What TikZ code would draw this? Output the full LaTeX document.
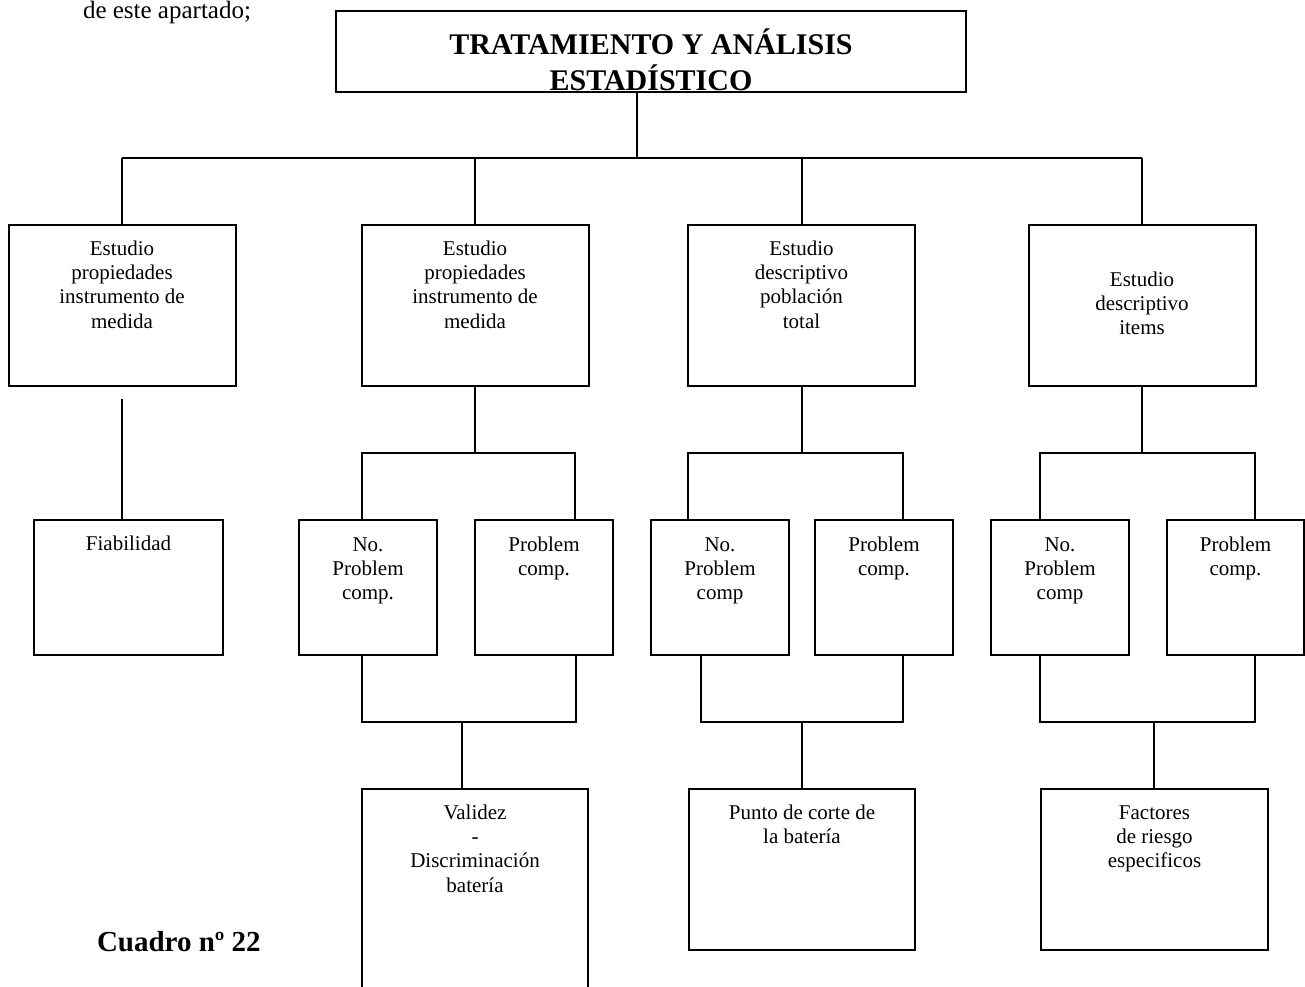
\documentclass[tikz,border=0pt]{standalone}
\usepackage{fontspec}
\setmainfont{Liberation Serif}
\tikzset{
  frame/.style={draw, line width=2pt, inner sep=0pt, outer sep=0pt},
  link/.style={line width=2pt, line join=miter},
  plain/.style={inner sep=0pt, outer sep=0pt},
}
% box contents: width, height, depth of first baseline, lines
\newcommand\boxtxt[4]{\parbox[c][#2][t]{#1}{\centering\fontsize{21}{24.4}\selectfont\rule{0pt}{#3}#4\par}}
\begin{document}
\begin{tikzpicture}[x=1pt,y=-1pt]
\useasboundingbox (0,0) rectangle (1305,986);
\clip (0,0) rectangle (1305,986);

% running text above and caption below
\node[plain, anchor=base west, font=\fontsize{25}{29}\selectfont] (para) at (83,18) {de este apartado;};
\node[plain, anchor=base west, font=\fontsize{29}{33}\selectfont\bfseries] (caption) at (97,951) {Cuadro nº 22};

% title box, its second line runs under the frame
\node[frame, minimum width=630pt, minimum height=81pt] (title) at (651,51.5) {};
\begin{scope}
  \clip (title.north west) rectangle (title.south east);
  \node[plain, anchor=base, font=\fontsize{30}{34}\selectfont\bfseries] (titleA) at (651,54) {TRATAMIENTO Y ANÁLISIS};
  \node[plain, anchor=base, font=\fontsize{30}{34}\selectfont\bfseries] (titleB) at (651,90.5) {ESTADÍSTICO};
\end{scope}
\draw[line width=2pt] (title.south west) -- (title.south east);

% first level
\node[frame] (b1) at (122,305.5) {\boxtxt{227pt}{161pt}{30pt}{Estudio\\propiedades\\instrumento de\\medida}};
\node[frame] (b2) at (475,305.5) {\boxtxt{227pt}{161pt}{30pt}{Estudio\\propiedades\\instrumento de\\medida}};
\node[frame] (b3) at (801.5,305.5) {\boxtxt{227pt}{161pt}{30pt}{Estudio\\descriptivo\\población\\total}};
\node[frame] (b4) at (1142,305.5) {\boxtxt{227pt}{161pt}{61pt}{Estudio\\descriptivo\\items}};

% second level
\node[frame] (fiab) at (128.5,587.5) {\boxtxt{189pt}{135pt}{30pt}{Fiabilidad}};
\node[frame] (b2a) at (368,587.5) {\boxtxt{138pt}{135pt}{31pt}{No.\\Problem\\comp.}};
\node[frame] (b2b) at (544,587.5) {\boxtxt{138pt}{135pt}{31pt}{Problem\\comp.}};
\node[frame] (b3a) at (720,587.5) {\boxtxt{138pt}{135pt}{31pt}{No.\\Problem\\comp}};
\node[frame] (b3b) at (884,587.5) {\boxtxt{138pt}{135pt}{31pt}{Problem\\comp.}};
\node[frame] (b4a) at (1060,587.5) {\boxtxt{138pt}{135pt}{31pt}{No.\\Problem\\comp}};
\node[frame] (b4b) at (1235.5,587.5) {\boxtxt{137pt}{135pt}{31pt}{Problem\\comp.}};

% third level
\node[frame] (val) at (475,894.5) {\boxtxt{226pt}{211pt}{30pt}{Validez\\-\\Discriminación\\batería}};
\node[frame] (punto) at (802,869.5) {\boxtxt{226pt}{161pt}{30pt}{Punto de corte de\\la batería}};
\node[frame] (fact) at (1154.5,869.5) {\boxtxt{227pt}{161pt}{30pt}{Factores\\de riesgo\\especificos}};

% junction points
\coordinate (top) at (637,158);
\coordinate (u2l) at (362,453);  \coordinate (u2r) at (575,453);
\coordinate (u3l) at (688,453);  \coordinate (u3r) at (903,453);
\coordinate (u4l) at (1040,453); \coordinate (u4r) at (1255,453);
\coordinate (d2l) at (362,722);  \coordinate (d2r) at (576,722);  \coordinate (d2m) at (462,722);
\coordinate (d3l) at (701,722);  \coordinate (d3r) at (903,722);  \coordinate (d3m) at (802,722);
\coordinate (d4l) at (1040,722); \coordinate (d4r) at (1255,722); \coordinate (d4m) at (1154,722);
\coordinate (fiabtop) at (122,399);

% title to first level
\draw[link] (top |- title.south) -- (top);
\draw[link] (b1.north |- top) -- (b4.north |- top);
\foreach \b in {b1,b2,b3,b4} \draw[link] (\b.north |- top) -- (\b.north);

% first level to second level
\draw[link] (fiabtop) -- (fiabtop |- fiab.north);
\draw[link] (b2.south) -- (b2.south |- u2l);
\draw[link] (u2l |- b2a.north) -- (u2l) -- (u2r) -- (u2r |- b2b.north);
\draw[link] (b3.south) -- (b3.south |- u3l);
\draw[link] (u3l |- b3a.north) -- (u3l) -- (u3r) -- (u3r |- b3b.north);
\draw[link] (b4.south) -- (b4.south |- u4l);
\draw[link] (u4l |- b4a.north) -- (u4l) -- (u4r) -- (u4r |- b4b.north);

% second level to third level
\draw[link] (d2l |- b2a.south) -- (d2l) -- (d2r) -- (d2r |- b2b.south);
\draw[link] (d2m) -- (d2m |- val.north);
\draw[link] (d3l |- b3a.south) -- (d3l) -- (d3r) -- (d3r |- b3b.south);
\draw[link] (d3m) -- (d3m |- punto.north);
\draw[link] (d4l |- b4a.south) -- (d4l) -- (d4r) -- (d4r |- b4b.south);
\draw[link] (d4m) -- (d4m |- fact.north);
\end{tikzpicture}
\end{document}
